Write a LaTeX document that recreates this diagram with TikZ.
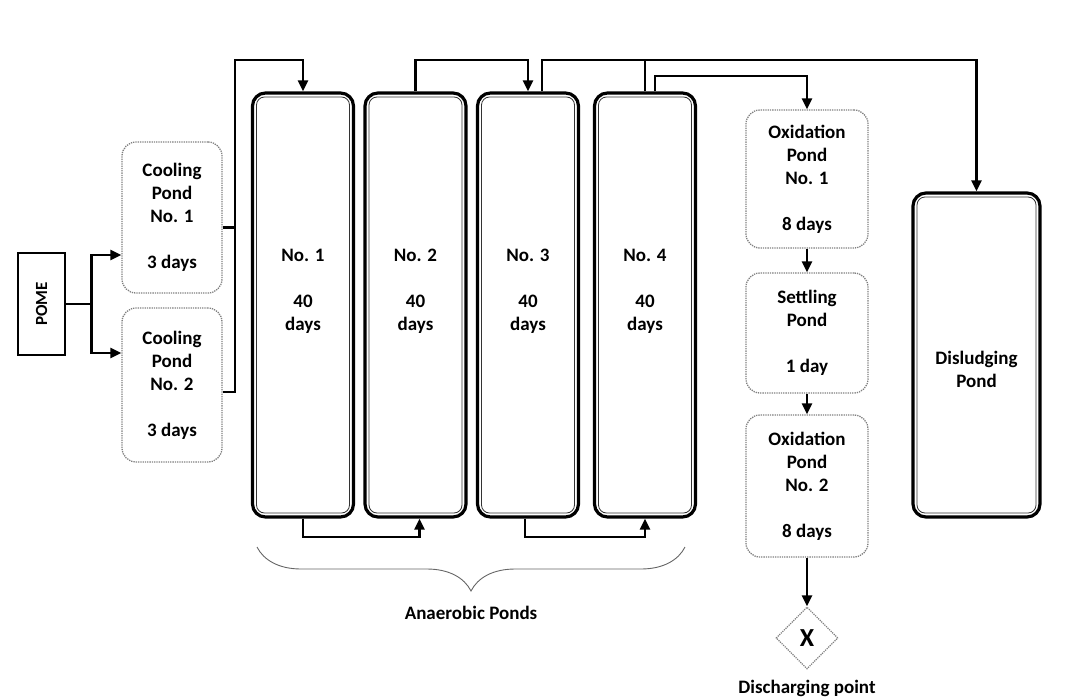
\documentclass[tikz,border=0pt]{standalone}
\usepackage{fontspec}
\setmainfont{Carlito}
\usepackage{graphicx}
\usetikzlibrary{arrows.meta,shapes.geometric,decorations.pathreplacing,calc}
\begin{document}
\begin{tikzpicture}[x=1pt,y=-1pt,
  txt/.style={font=\bfseries\fontsize{19}{23}\selectfont, align=center, inner sep=0pt},
  pomebox/.style={draw, line width=2.4pt, minimum width=47pt, minimum height=102pt, inner sep=0pt},
  dotbox/.style={draw=black!50, densely dotted, line width=1.3pt, rounded corners=14pt, inner sep=0pt, font=\bfseries\fontsize{19}{23}\selectfont, align=center},
  pondbox/.style={draw, line width=3.2pt, rounded corners=13pt, inner sep=0pt, minimum width=101pt},
  innerline/.style={draw=black!80, line width=0.8pt, rounded corners=8pt},
  wire/.style={line width=2.6pt},
  conn/.style={wire, -{Triangle[length=11pt,width=10pt]}},
]
\useasboundingbox (0,0) rectangle (1071,699);

% POME and cooling ponds
\node[pomebox] (pome) at (41.5,304) {\rotatebox{90}{\bfseries\fontsize{17}{19}\selectfont POME}};
\node[dotbox, minimum width=100pt, minimum height=151pt] (c1) at (172,217.5) {Cooling\\Pond\\No. 1\\[23pt]3 days};
\node[dotbox, minimum width=100pt, minimum height=154pt] (c2) at (172,385) {Cooling\\Pond\\No. 2\\[23pt]3 days};

% anaerobic ponds
\node[pondbox, minimum height=424pt] (a1) at (303,305) {};
\node[pondbox, minimum height=424pt] (a2) at (415.5,305) {};
\node[pondbox, minimum height=424pt] (a3) at (528,305) {};
\node[pondbox, minimum height=424pt] (a4) at (645,305) {};
\node[txt] (l1) at (303,291) {No. 1\\[23pt]40\\days};
\node[txt] (l2) at (415.5,291) {No. 2\\[23pt]40\\days};
\node[txt] (l3) at (528,291) {No. 3\\[23pt]40\\days};
\node[txt] (l4) at (645,291) {No. 4\\[23pt]40\\days};

% oxidation / settling
\node[dotbox, minimum width=122pt, minimum height=138pt] (o1) at (807,179) {Oxidation\\Pond\\No. 1\\[23pt]8 days};
\node[dotbox, minimum width=122pt, minimum height=120pt] (s1) at (807,333) {Settling\\Pond\\[23pt]1 day};
\node[dotbox, minimum width=122pt, minimum height=142pt] (o2) at (807,486) {Oxidation\\Pond\\No. 2\\[23pt]8 days};
\node[diamond, draw=black!50, densely dotted, line width=1.2pt, minimum width=62pt, minimum height=62pt, inner sep=0pt, font=\bfseries\fontsize{26}{28}\selectfont] (dx) at (807,638) {X};
\node[txt] (dlab) at (807,688) {Discharging point};

% disludging pond
\node[pondbox, minimum width=127pt, minimum height=324pt] (dis) at (976.5,355) {};
\node[txt] (dislab) at (976.5,369) {Disludging\\Pond};

% inner lines of double borders
\foreach \n in {a1,a2,a3,a4,dis}
  \draw[innerline] ([shift={(5.6pt,-5.6pt)}]\n.north west) rectangle ([shift={(-5.6pt,5.6pt)}]\n.south east);

% brace
\coordinate (b1) at (257,547);
\coordinate (b2) at (685,547);
\draw[draw=black!60, line width=0.9pt, decorate, decoration={brace, amplitude=44pt}] (b2) -- (b1);
\node[txt] (alab) at (471,613) {Anaerobic Ponds};

% connectors
\coordinate (topy) at (0,60);
\coordinate (topy2) at (0,76);
\coordinate (boty) at (0,537);
\coordinate (bus) at (235,60);

\draw[conn] (pome.east) -- ++(25pt,0) |- ([yshift=-37.5pt]c1.west);
\draw[conn] (pome.east) -- ++(25pt,0) |- ([yshift=32pt]c2.west);
\draw[wire] ([yshift=-10pt]c1.east) -- ([yshift=-10pt]c1.east -| bus);
\draw[conn] ([yshift=-7pt]c2.east) -| (bus) -| (a1.north);
\draw[conn] (a2.north) -- (a2.north |- topy) -| (a3.north);
\draw[conn] ([xshift=14pt]a3.north) -- ([xshift=14pt]a3.north |- topy) -| (dis.north);
\draw[wire] (a4.north) -- (a4.north |- topy);
\draw[conn] ([xshift=10pt]a4.north) -- ([xshift=10pt]a4.north |- topy2) -| (o1.north);
\draw[conn] (a1.south) -- (a1.south |- boty) -| ([xshift=4pt]a2.south);
\draw[conn] ([xshift=-3pt]a3.south) -- ([xshift=-3pt]a3.south |- boty) -| (a4.south);
\draw[conn] (o1.south) -- (s1.north);
\draw[conn] (s1.south) -- (o2.north);
\draw[conn] (o2.south) -- (dx.north);
\end{tikzpicture}
\end{document}
